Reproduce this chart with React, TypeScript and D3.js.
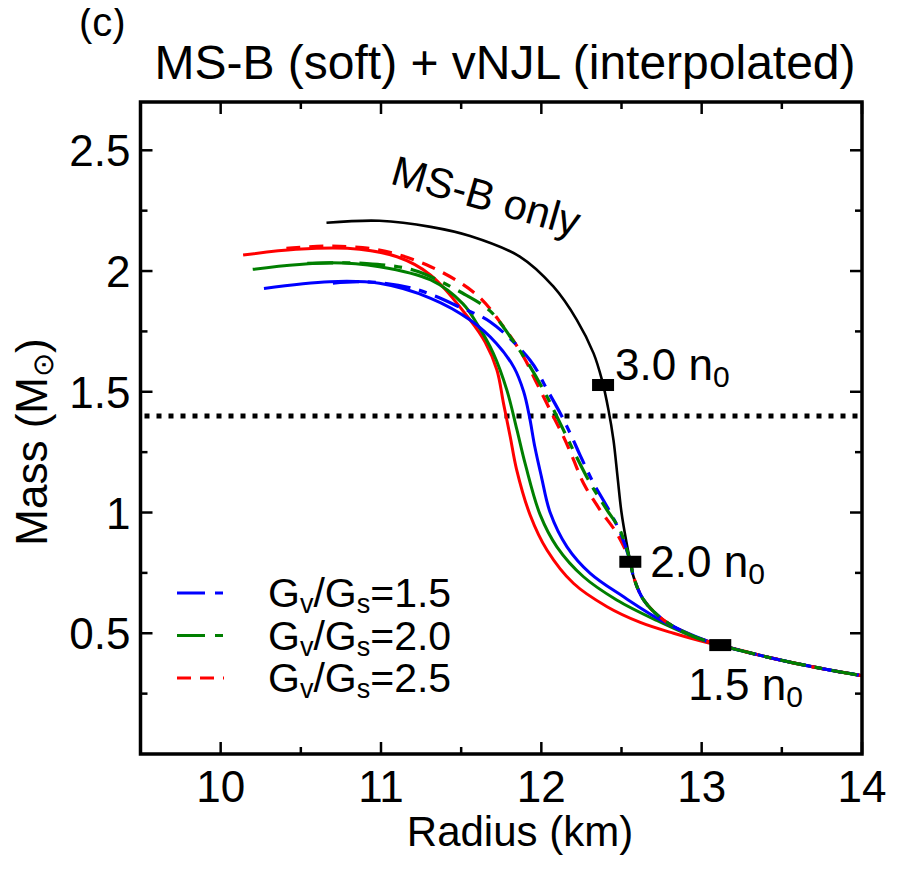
import React from 'react';
import * as d3 from 'd3';

// Mass-radius curves: [radius (km), mass (Msun)]
const msbOnly: [number, number][] = [
  [10.66, 2.2], [10.99, 2.208], [11.31, 2.183], [11.556, 2.145], [11.868, 2.059],
  [12.076, 1.935], [12.222, 1.797], [12.326, 1.659], [12.378, 1.549], [12.419, 1.424],
  [12.45, 1.3], [12.475, 1.15], [12.5, 1.0], [12.53, 0.88], [12.555, 0.796],
];

// shared by MS-B and the dashed curves between 2.0 n0 and 1.5 n0
const midBranch: [number, number][] = [
  [12.575, 0.734], [12.638, 0.638], [12.762, 0.555], [12.93, 0.493], [13.116, 0.451],
];

// shared by every curve below 1.5 n0
const tailBranch: [number, number][] = [
  [13.4, 0.403], [13.7, 0.36], [14.0, 0.324],
];

const redSolid: [number, number][] = [
  [10.14, 2.066], [10.47, 2.09], [10.79, 2.094], [11.1, 2.059], [11.31, 1.983],
  [11.556, 1.797], [11.65, 1.705], [11.723, 1.59], [11.764, 1.452], [11.806, 1.314],
  [11.845, 1.18], [11.93, 0.99], [12.035, 0.845], [12.2, 0.707], [12.41, 0.61],
  [12.617, 0.545], [12.825, 0.5], [13.033, 0.462], [13.116, 0.451],
];
const greenSolid: [number, number][] = [
  [10.2, 2.007], [10.68, 2.034], [10.99, 2.018], [11.31, 1.963], [11.51, 1.865],
  [11.6, 1.78], [11.7, 1.66], [11.785, 1.507], [11.848, 1.342], [11.9, 1.2],
  [11.993, 0.99], [12.097, 0.858], [12.263, 0.734], [12.47, 0.638], [12.72, 0.553],
  [12.97, 0.48], [13.116, 0.451],
];
const blueSolid: [number, number][] = [
  [10.27, 1.928], [10.68, 1.956], [10.99, 1.949], [11.31, 1.887], [11.556, 1.797],
  [11.72, 1.7], [11.83, 1.6], [11.89, 1.5], [11.925, 1.4], [11.96, 1.27],
  [12.0, 1.15], [12.055, 1.0], [12.16, 0.858], [12.305, 0.748], [12.513, 0.651],
  [12.762, 0.548], [13.033, 0.468], [13.116, 0.451],
];

const redDashed: [number, number][] = [
  [10.41, 2.094], [10.68, 2.103], [10.99, 2.087], [11.31, 2.018], [11.6, 1.9],
  [11.764, 1.769], [11.889, 1.645], [11.972, 1.535], [12.055, 1.424], [12.138, 1.314],
  [12.2, 1.22], [12.263, 1.121], [12.367, 1.01], [12.47, 0.914], [12.555, 0.796],
];
const greenDashed: [number, number][] = [
  [10.54, 2.032], [10.89, 2.032], [11.2, 2.004], [11.51, 1.908], [11.68, 1.835],
  [11.806, 1.728], [11.93, 1.604], [12.035, 1.48], [12.118, 1.369], [12.22, 1.23],
  [12.305, 1.121], [12.41, 1.01], [12.49, 0.928], [12.555, 0.796],
];
const blueDashed: [number, number][] = [
  [10.7, 1.95], [10.89, 1.956], [11.2, 1.928], [11.51, 1.845], [11.68, 1.79],
  [11.93, 1.631], [12.035, 1.51], [12.118, 1.411], [12.18, 1.328], [12.24, 1.24],
  [12.326, 1.121], [12.41, 1.024], [12.49, 0.92], [12.555, 0.796],
];

const densityMarks = [
  { r: 12.385, m: 1.528, label: '3.0' },
  { r: 12.555, m: 0.796, label: '2.0' },
  { r: 13.116, m: 0.451, label: '1.5' },
];

const legendRatios = ['1.5', '2.0', '2.5'];
const xMajor = [10, 11, 12, 13, 14];
const xMinor = [9.5, 10.5, 11.5, 12.5, 13.5];
const yMajor = [0.5, 1, 1.5, 2, 2.5];
const yMinor = [0.25, 0.75, 1.25, 1.75, 2.25];
const canonicalMass = 1.4;

const RED = '#ff0000';
const GREEN = '#007f00';
const BLUE = '#0000ff';
const FONT = '"Liberation Sans", Arial, Helvetica, sans-serif';

export default function App() {
  const W = 900;
  const H = 872;
  const x = d3.scaleLinear().domain([9.5, 14]).range([140.5, 862]);
  const y = d3.scaleLinear().domain([0, 2.7]).range([754, 102]);
  const line = d3
    .line<[number, number]>()
    .x(d => x(d[0]))
    .y(d => y(d[1]))
    .curve(d3.curveCatmullRom.alpha(0.5));

  const [x0, x1] = x.range();
  const [y0, y1] = y.range();

  const solids = [
    { pts: [...redSolid, ...tailBranch], color: RED },
    { pts: [...greenSolid, ...tailBranch], color: GREEN },
    { pts: [...blueSolid, ...tailBranch], color: BLUE },
  ];
  const dashes = [
    { pts: [...redDashed, ...midBranch, ...tailBranch], color: RED, dash: '14,9' },
    { pts: [...blueDashed, ...midBranch, ...tailBranch], color: BLUE, dash: '26,9,8,9' },
    { pts: [...greenDashed, ...midBranch, ...tailBranch], color: GREEN, dash: '26,9,8,9' },
  ];
  const legendColors = [BLUE, GREEN, RED];
  const legendDash = ['28,10,8,10', '28,10,8,10', '14,9'];

  const nLabel = (d: { r: number; m: number; label: string }, dx: number, dy: number) => (
    <text key={'n' + d.label} x={x(d.r) + dx} y={y(d.m) + dy} fontSize={44}>
      {d.label} n<tspan fontSize={30} dy={7}>0</tspan>
    </text>
  );

  return (
    <svg width={W} height={H} style={{ display: 'block', margin: -8 }} fontFamily={FONT}>
      <rect width={W} height={H} fill="#fff" />

      <text x={79} y={36} fontSize={40}>(c)</text>
      <text x={505} y={79} fontSize={48} textAnchor="middle">
        MS-B (soft) + vNJL (interpolated)
      </text>

      {/* dotted 1.4 Msun line */}
      <line x1={x0 + 4} x2={x1 - 4} y1={y(canonicalMass)} y2={y(canonicalMass)}
        stroke="#000" strokeWidth={5} strokeDasharray="5,7" />

      {/* curves */}
      <path d={line([...msbOnly, ...midBranch, ...tailBranch]) ?? ''} fill="none" stroke="#000" strokeWidth={2.6} />
      {solids.map((s, i) => (
        <path key={'s' + i} d={line(s.pts) ?? ''} fill="none" stroke={s.color} strokeWidth={3} />
      ))}
      {dashes.map((s, i) => (
        <path key={'d' + i} d={line(s.pts) ?? ''} fill="none" stroke={s.color} strokeWidth={3.2}
          strokeDasharray={s.dash} />
      ))}

      {/* density markers */}
      {densityMarks.map(d => (
        <rect key={d.label} x={x(d.r) - 11} y={y(d.m) - 6} width={22} height={12} fill="#000" />
      ))}
      {nLabel(densityMarks[0], 12, -5)}
      {nLabel(densityMarks[1], 20, 15)}
      {nLabel(densityMarks[2], -32, 55)}

      <text x={482} y={210} fontSize={42} textAnchor="middle" transform="rotate(16 482 210)">
        MS-B only
      </text>

      {/* legend */}
      {legendRatios.map((r, i) => (
        <g key={r}>
          <line x1={177} x2={224} y1={593 + i * 42.5} y2={593 + i * 42.5}
            stroke={legendColors[i]} strokeWidth={3.2} strokeDasharray={legendDash[i]} />
          <text x={268} y={607 + i * 42.5} fontSize={41}>
            G<tspan fontSize={27} dy={6}>v</tspan><tspan dy={-6}>/G</tspan>
            <tspan fontSize={27} dy={6}>s</tspan><tspan dy={-6}>={r}</tspan>
          </text>
        </g>
      ))}

      {/* frame and ticks */}
      <rect x={x0} y={y1} width={x1 - x0} height={y0 - y1} fill="none" stroke="#000" strokeWidth={3.5} />
      {xMajor.map(v => (
        <g key={'xM' + v}>
          <line x1={x(v)} x2={x(v)} y1={y0} y2={y0 - 12} stroke="#000" strokeWidth={2.5} />
          <line x1={x(v)} x2={x(v)} y1={y1} y2={y1 + 12} stroke="#000" strokeWidth={2.5} />
          <text x={x(v)} y={y0 + 48} fontSize={44} textAnchor="middle">{v}</text>
        </g>
      ))}
      {xMinor.map(v => (
        <g key={'xm' + v}>
          <line x1={x(v)} x2={x(v)} y1={y0} y2={y0 - 7} stroke="#000" strokeWidth={2.5} />
          <line x1={x(v)} x2={x(v)} y1={y1} y2={y1 + 7} stroke="#000" strokeWidth={2.5} />
        </g>
      ))}
      {yMajor.map(v => (
        <g key={'yM' + v}>
          <line x1={x0} x2={x0 + 12} y1={y(v)} y2={y(v)} stroke="#000" strokeWidth={2.5} />
          <line x1={x1} x2={x1 - 12} y1={y(v)} y2={y(v)} stroke="#000" strokeWidth={2.5} />
          <text x={x0 - 10} y={y(v) + 16} fontSize={44} textAnchor="end">{v}</text>
        </g>
      ))}
      {yMinor.map(v => (
        <g key={'ym' + v}>
          <line x1={x0} x2={x0 + 7} y1={y(v)} y2={y(v)} stroke="#000" strokeWidth={2.5} />
          <line x1={x1} x2={x1 - 7} y1={y(v)} y2={y(v)} stroke="#000" strokeWidth={2.5} />
        </g>
      ))}

      {/* axis titles */}
      <text x={520} y={846} fontSize={42} textAnchor="middle">Radius (km)</text>
      <text transform="translate(47 442) rotate(-90)" fontSize={44} textAnchor="middle">
        Mass (M<tspan fontSize={29} dy={6}>⊙</tspan><tspan dy={-6}>)</tspan>
      </text>
    </svg>
  );
}
